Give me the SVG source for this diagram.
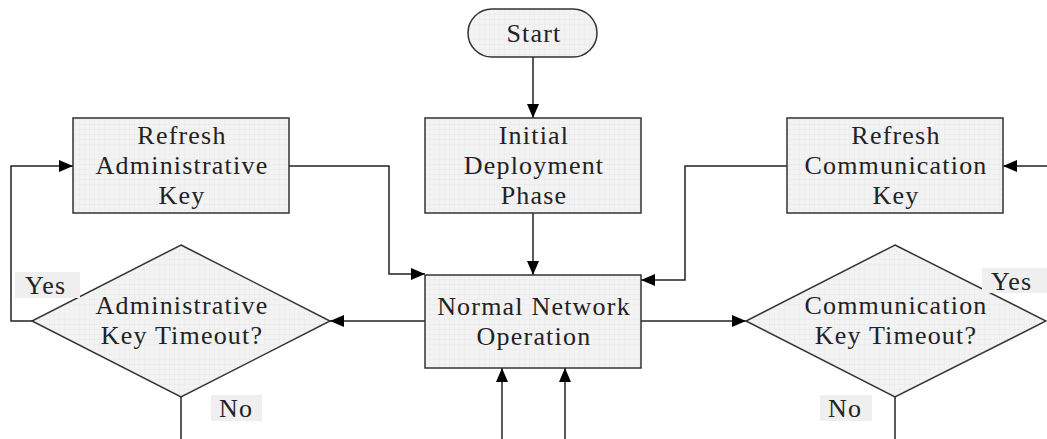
<svg xmlns="http://www.w3.org/2000/svg" width="1047" height="439" viewBox="0 0 1047 439">
<defs>
<pattern id="grid" width="5" height="5" patternUnits="userSpaceOnUse">
<rect width="5" height="5" fill="#f3f3f3"/>
<path d="M5 0V5M0 5H5" stroke="#e2e2e2" stroke-width="0.6" fill="none"/>
</pattern>
<marker id="arr" markerWidth="14" markerHeight="12" refX="14" refY="6" orient="auto" markerUnits="userSpaceOnUse">
<path d="M0,0 L14,6 L0,12 z" fill="#000"/>
</marker>
<style>
.shape{fill:url(#grid);stroke:#333;stroke-width:1.5}
.t{font-family:"Liberation Serif","Times New Roman",serif;font-size:26px;letter-spacing:1.2px;fill:#222;text-anchor:middle}
.lb{font-family:"Liberation Serif","Times New Roman",serif;font-size:26px;letter-spacing:1.2px;fill:#222}
.lbg{fill:#efefef}
.c{fill:none;stroke:#222;stroke-width:1.5}
.ca{fill:none;stroke:#222;stroke-width:1.5;marker-end:url(#arr)}
</style>
</defs>
<rect width="1047" height="439" fill="#fff"/>
<g id="connectors">
<path class="ca" d="M533,57 V118"/>
<path class="ca" d="M533,213 V275"/>
<path class="ca" d="M289,166 H389 V274 H425"/>
<path class="ca" d="M787,166 H685 V280 H641"/>
<path class="ca" d="M425,321 H330"/>
<path class="ca" d="M641,321 H746"/>
<path class="ca" d="M32,321 H11 V166 H73"/>
<path class="ca" d="M1047,166 H1003"/>
<path class="ca" d="M502,439 V368"/>
<path class="ca" d="M565,439 V368"/>
<path class="c" d="M181,397 V439"/>
<path class="c" d="M895,397 V439"/>
</g>
<g id="start">
<rect class="shape" x="468" y="9" width="129" height="48" rx="24" ry="24"/>
<text class="t" x="534" y="42">Start</text>
</g>
<g id="initial">
<rect class="shape" x="425" y="118" width="216" height="95"/>
<text class="t" x="534" y="144">Initial</text>
<text class="t" x="534" y="174">Deployment</text>
<text class="t" x="534" y="204">Phase</text>
</g>
<g id="refresh-admin">
<rect class="shape" x="73" y="118" width="216" height="95"/>
<text class="t" x="182" y="144">Refresh</text>
<text class="t" x="182" y="174">Administrative</text>
<text class="t" x="182" y="204">Key</text>
</g>
<g id="refresh-comm">
<rect class="shape" x="787" y="118" width="216" height="95"/>
<text class="t" x="896" y="144">Refresh</text>
<text class="t" x="896" y="174">Communication</text>
<text class="t" x="896" y="204">Key</text>
</g>
<g id="normal">
<rect class="shape" x="425" y="275" width="216" height="93"/>
<text class="t" x="534" y="315">Normal Network</text>
<text class="t" x="534" y="345">Operation</text>
</g>
<g id="admin-timeout">
<polygon class="shape" points="181,245 330,321 181,397 32,321"/>
<text class="t" x="182" y="314">Administrative</text>
<text class="t" x="182" y="344">Key Timeout?</text>
</g>
<g id="comm-timeout">
<polygon class="shape" points="895,245 1046,321 895,397 746,321"/>
<text class="t" x="896" y="314">Communication</text>
<text class="t" x="896" y="344">Key Timeout?</text>
</g>
<g id="labels">
<rect class="lbg" x="15" y="272" width="65" height="26"/>
<text class="lb" x="25" y="294">Yes</text>
<rect class="lbg" x="211" y="395" width="51" height="26"/>
<text class="lb" x="219" y="417">No</text>
<rect class="lbg" x="982" y="268" width="65" height="25"/>
<text class="lb" x="991" y="290">Yes</text>
<rect class="lbg" x="820" y="395" width="52" height="26"/>
<text class="lb" x="828" y="417">No</text>
</g>
</svg>
